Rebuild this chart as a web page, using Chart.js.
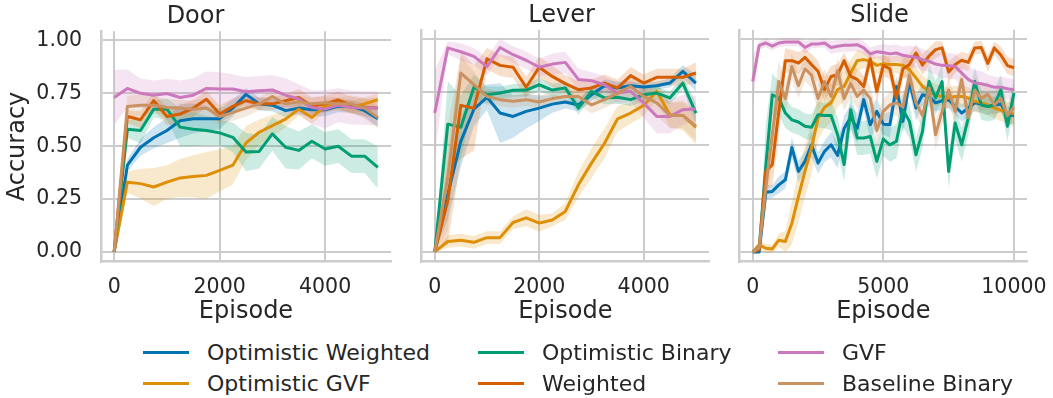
<!DOCTYPE html>
<html>
<head>
<meta charset="utf-8">
<script src="https://cdn.jsdelivr.net/npm/chart.js@4.4.1/dist/chart.umd.min.js"></script>
<style>
    body { margin: 0; background: #fff; width: 1053px; height: 398px; overflow: hidden; position: relative;
           font-family: "DejaVu Sans", sans-serif; color: #262626; }
    canvas { position: absolute; top: 0; }
    .leg-item { position: absolute; height: 30px; display: flex; align-items: center; font-size: 22px; white-space: nowrap; }
    .leg-line { width: 46px; height: 3px; margin-right: 18px; }
</style>
</head>
<body>
<canvas id="chart-door"  style="left:0px"   width="418" height="330"></canvas>
<canvas id="chart-lever" style="left:414px" width="322" height="330"></canvas>
<canvas id="chart-slide" style="left:732px" width="341" height="330"></canvas>
<div id="legend"></div>
<script>
// series (hue order)
const seriesNames  = ['Optimistic Weighted', 'Optimistic GVF', 'Optimistic Binary', 'Weighted', 'GVF', 'Baseline Binary'];
const seriesColors = ['#0173b2', '#de8f05', '#029e73', '#d55e00', '#cc78bc', '#ca9161'];

const yTicks      = [0, 0.25, 0.5, 0.75, 1.0];
const doorTicks   = [0, 2000, 4000];
const leverTicks  = [0, 2000, 4000];
const slideTicks  = [0, 5000, 10000];

// ---- Door ----
const doorEp = [0, 250, 500, 750, 1000, 1250, 1500, 1750, 2000, 2250, 2500, 2750, 3000, 3250, 3500, 3750, 4000, 4250, 4500, 4750, 5000];
const door_ow   = [0, 0.41, 0.495, 0.54, 0.574, 0.62, 0.63, 0.63, 0.63, 0.68, 0.745, 0.70, 0.694, 0.668, 0.68, 0.672, 0.672, 0.69, 0.688, 0.668, 0.63];
const door_ogvf = [0, 0.33, 0.323, 0.307, 0.33, 0.35, 0.357, 0.362, 0.386, 0.41, 0.515, 0.566, 0.597, 0.628, 0.675, 0.636, 0.69, 0.70, 0.683, 0.70, 0.72];
const door_ob   = [0, 0.58, 0.574, 0.675, 0.675, 0.59, 0.58, 0.574, 0.563, 0.542, 0.472, 0.475, 0.558, 0.495, 0.48, 0.523, 0.487, 0.50, 0.453, 0.453, 0.40];
const door_w    = [0, 0.64, 0.625, 0.715, 0.64, 0.652, 0.68, 0.722, 0.652, 0.688, 0.715, 0.70, 0.70, 0.715, 0.73, 0.69, 0.70, 0.718, 0.694, 0.683, 0.68];
const door_gvf  = [0.73, 0.773, 0.75, 0.741, 0.749, 0.73, 0.741, 0.773, 0.77, 0.77, 0.757, 0.762, 0.766, 0.741, 0.723, 0.683, 0.675, 0.694, 0.683, 0.68, 0.68];
const door_bb   = [0, 0.688, 0.694, 0.694, 0.683, 0.68, 0.675, 0.68, 0.64, 0.66, 0.68, 0.70, 0.735, 0.70, 0.71, 0.70, 0.705, 0.70, 0.70, 0.68, 0.635];

const door_ow_sd   = [0, 0.03, 0.04, 0.05, 0.06, 0.08, 0.07, 0.06, 0.05, 0.04, 0.03, 0.03, 0.03, 0.03, 0.03, 0.03, 0.03, 0.03, 0.03, 0.03, 0.04];
const door_ogvf_sd = [0, 0.05, 0.07, 0.09, 0.08, 0.09, 0.10, 0.11, 0.10, 0.09, 0.08, 0.06, 0.05, 0.04, 0.03, 0.03, 0.03, 0.03, 0.03, 0.03, 0.03];
const door_ob_sd   = [0, 0.04, 0.06, 0.04, 0.05, 0.09, 0.08, 0.07, 0.06, 0.07, 0.09, 0.08, 0.08, 0.10, 0.09, 0.08, 0.08, 0.08, 0.08, 0.08, 0.10];
const door_w_sd    = [0, 0.03, 0.04, 0.04, 0.04, 0.04, 0.04, 0.04, 0.04, 0.04, 0.03, 0.03, 0.03, 0.03, 0.04, 0.04, 0.04, 0.04, 0.04, 0.04, 0.05];
const door_gvf_sd  = [0.13, 0.09, 0.07, 0.07, 0.07, 0.08, 0.08, 0.08, 0.08, 0.07, 0.07, 0.07, 0.07, 0.08, 0.07, 0.08, 0.09, 0.08, 0.08, 0.08, 0.08];
const door_bb_sd   = [0, 0.05, 0.05, 0.04, 0.04, 0.04, 0.04, 0.05, 0.04, 0.04, 0.04, 0.03, 0.03, 0.03, 0.03, 0.03, 0.03, 0.03, 0.04, 0.05, 0.05];

// ---- Lever ----
const leverEp = [0, 250, 500, 750, 1000, 1250, 1500, 1750, 2000, 2250, 2500, 2750, 3000, 3250, 3500, 3750, 4000, 4250, 4500, 4750, 5000];
const lever_ow   = [0, 0.27, 0.52, 0.67, 0.726, 0.652, 0.636, 0.66, 0.675, 0.694, 0.704, 0.69, 0.738, 0.78, 0.77, 0.78, 0.774, 0.78, 0.793, 0.848, 0.793];
const lever_ogvf = [0, 0.049, 0.055, 0.045, 0.067, 0.067, 0.138, 0.16, 0.135, 0.15, 0.19, 0.315, 0.417, 0.51, 0.625, 0.652, 0.688, 0.754, 0.644, 0.641, 0.585];
const lever_ob   = [0, 0.60, 0.585, 0.773, 0.738, 0.746, 0.759, 0.76, 0.785, 0.76, 0.77, 0.675, 0.754, 0.723, 0.726, 0.715, 0.738, 0.746, 0.723, 0.793, 0.652];
const lever_w    = [0, 0.24, 0.688, 0.675, 0.907, 0.876, 0.867, 0.773, 0.867, 0.824, 0.79, 0.762, 0.77, 0.793, 0.77, 0.828, 0.793, 0.82, 0.82, 0.82, 0.84];
const lever_gvf  = [0.652, 0.958, 0.94, 0.918, 0.87, 0.96, 0.926, 0.90, 0.867, 0.882, 0.89, 0.81, 0.804, 0.785, 0.746, 0.754, 0.70, 0.636, 0.636, 0.668, 0.672];
const lever_bb   = [0, 0.35, 0.84, 0.785, 0.73, 0.715, 0.707, 0.715, 0.704, 0.72, 0.73, 0.73, 0.69, 0.715, 0.746, 0.777, 0.73, 0.70, 0.641, 0.641, 0.59];

const lever_ow_sd   = [0, 0.12, 0.12, 0.08, 0.06, 0.14, 0.10, 0.08, 0.06, 0.04, 0.03, 0.03, 0.03, 0.03, 0.03, 0.02, 0.02, 0.02, 0.02, 0.03, 0.04];
const lever_ogvf_sd = [0, 0.03, 0.03, 0.03, 0.03, 0.03, 0.03, 0.04, 0.04, 0.03, 0.04, 0.06, 0.07, 0.07, 0.06, 0.05, 0.05, 0.04, 0.06, 0.07, 0.08];
const lever_ob_sd   = [0, 0.20, 0.15, 0.06, 0.04, 0.03, 0.03, 0.03, 0.03, 0.03, 0.03, 0.03, 0.03, 0.03, 0.03, 0.03, 0.03, 0.03, 0.03, 0.03, 0.05];
const lever_w_sd    = [0, 0.20, 0.25, 0.20, 0.05, 0.05, 0.05, 0.05, 0.05, 0.05, 0.04, 0.04, 0.04, 0.04, 0.04, 0.04, 0.04, 0.04, 0.04, 0.04, 0.05];
const lever_gvf_sd  = [0.20, 0.03, 0.04, 0.04, 0.04, 0.04, 0.04, 0.04, 0.04, 0.05, 0.05, 0.05, 0.04, 0.04, 0.05, 0.05, 0.07, 0.08, 0.08, 0.07, 0.06];
const lever_bb_sd   = [0, 0.25, 0.08, 0.06, 0.04, 0.03, 0.03, 0.03, 0.03, 0.03, 0.03, 0.04, 0.04, 0.04, 0.04, 0.05, 0.05, 0.06, 0.06, 0.06, 0.07];

// ---- Slide ----
const slideEp = [0, 250, 500, 750, 1000, 1250, 1500, 1750, 2000, 2250, 2500, 2750, 3000, 3250, 3500, 3750, 4000, 4250, 4500, 4750,
                 5000, 5250, 5500, 5750, 6000, 6250, 6500, 6750, 7000, 7250, 7500, 7750, 8000, 8250, 8500, 8750, 9000, 9250, 9500, 9750, 10000];
const slide_ow   = [0, 0, 0.28, 0.284, 0.315, 0.339, 0.49, 0.378, 0.425, 0.503, 0.417, 0.472, 0.503, 0.453, 0.58, 0.632, 0.58, 0.715, 0.597, 0.66,
                    0.60, 0.597, 0.777, 0.613, 0.80, 0.676, 0.738, 0.73, 0.70, 0.71, 0.715, 0.683, 0.652, 0.676, 0.70, 0.695, 0.683, 0.69, 0.695, 0.641, 0.641];
const slide_ogvf = [0, 0.033, 0.017, 0.014, 0.055, 0.049, 0.135, 0.26, 0.378, 0.487, 0.628, 0.679, 0.70, 0.762, 0.777, 0.84, 0.898, 0.903, 0.895, 0.876,
                    0.884, 0.88, 0.88, 0.876, 0.856, 0.817, 0.777, 0.754, 0.738, 0.73, 0.723, 0.73, 0.73, 0.723, 0.707, 0.70, 0.69, 0.676, 0.665, 0.652, 0.647];
const slide_ob   = [0, 0.02, 0.40, 0.738, 0.723, 0.652, 0.62, 0.61, 0.59, 0.585, 0.644, 0.641, 0.641, 0.55, 0.41, 0.668, 0.535, 0.535, 0.542, 0.425,
                    0.53, 0.503, 0.519, 0.668, 0.613, 0.456, 0.566, 0.80, 0.723, 0.80, 0.378, 0.605, 0.503, 0.628, 0.80, 0.69, 0.683, 0.69, 0.762, 0.59, 0.746];
const slide_w    = [0, 0.01, 0.378, 0.41, 0.66, 0.898, 0.898, 0.887, 0.914, 0.88, 0.848, 0.762, 0.824, 0.832, 0.898, 0.824, 0.81, 0.777, 0.907, 0.754,
                    0.876, 0.86, 0.723, 0.86, 0.88, 0.934, 0.878, 0.92, 0.95, 0.958, 0.845, 0.88, 0.90, 0.89, 0.958, 0.96, 0.885, 0.958, 0.925, 0.875, 0.865];
const slide_gvf  = [0.80, 0.97, 0.981, 0.966, 0.981, 0.986, 0.986, 0.986, 0.96, 0.976, 0.976, 0.981, 0.96, 0.966, 0.97, 0.97, 0.973, 0.958, 0.93, 0.94,
                    0.936, 0.93, 0.934, 0.923, 0.918, 0.914, 0.903, 0.895, 0.882, 0.876, 0.874, 0.871, 0.84, 0.81, 0.793, 0.79, 0.782, 0.773, 0.773, 0.766, 0.762];
const slide_bb   = [0, 0.02, 0.30, 0.55, 0.80, 0.72, 0.87, 0.78, 0.86, 0.83, 0.72, 0.80, 0.73, 0.85, 0.72, 0.79, 0.73, 0.76, 0.72, 0.57,
                    0.66, 0.69, 0.70, 0.68, 0.83, 0.70, 0.64, 0.77, 0.55, 0.66, 0.76, 0.66, 0.81, 0.63, 0.76, 0.72, 0.74, 0.69, 0.72, 0.64, 0.68];

const slide_ow_sd   = [0, 0, 0.03, 0.03, 0.04, 0.04, 0.05, 0.05, 0.05, 0.06, 0.05, 0.05, 0.06, 0.06, 0.06, 0.06, 0.07, 0.05, 0.07, 0.06,
                       0.05, 0.06, 0.05, 0.06, 0.05, 0.06, 0.05, 0.05, 0.04, 0.04, 0.04, 0.04, 0.04, 0.04, 0.04, 0.04, 0.04, 0.04, 0.04, 0.04, 0.04];
const slide_ogvf_sd = [0, 0.02, 0.02, 0.02, 0.03, 0.05, 0.10, 0.12, 0.12, 0.12, 0.10, 0.10, 0.09, 0.08, 0.07, 0.06, 0.05, 0.04, 0.04, 0.04,
                       0.04, 0.04, 0.04, 0.05, 0.05, 0.05, 0.05, 0.05, 0.05, 0.05, 0.05, 0.05, 0.05, 0.05, 0.05, 0.05, 0.05, 0.05, 0.05, 0.05, 0.06];
const slide_ob_sd   = [0, 0.02, 0.20, 0.10, 0.08, 0.07, 0.06, 0.06, 0.06, 0.06, 0.06, 0.06, 0.07, 0.08, 0.08, 0.08, 0.08, 0.08, 0.08, 0.08,
                       0.08, 0.08, 0.08, 0.08, 0.08, 0.08, 0.08, 0.08, 0.08, 0.08, 0.08, 0.08, 0.08, 0.08, 0.07, 0.07, 0.07, 0.07, 0.07, 0.07, 0.07];
const slide_w_sd    = [0, 0.01, 0.08, 0.10, 0.12, 0.06, 0.05, 0.05, 0.04, 0.05, 0.05, 0.06, 0.05, 0.05, 0.04, 0.05, 0.05, 0.05, 0.04, 0.05,
                       0.05, 0.05, 0.06, 0.05, 0.05, 0.04, 0.05, 0.04, 0.04, 0.03, 0.05, 0.04, 0.04, 0.04, 0.03, 0.03, 0.04, 0.03, 0.04, 0.04, 0.04];
const slide_gvf_sd  = [0.12, 0.02, 0.02, 0.02, 0.02, 0.02, 0.02, 0.02, 0.03, 0.02, 0.02, 0.02, 0.03, 0.03, 0.03, 0.03, 0.03, 0.03, 0.03, 0.03,
                       0.04, 0.04, 0.04, 0.04, 0.05, 0.05, 0.05, 0.05, 0.05, 0.06, 0.06, 0.06, 0.06, 0.06, 0.06, 0.06, 0.05, 0.05, 0.05, 0.05, 0.05];
const slide_bb_sd   = [0, 0.02, 0.10, 0.12, 0.10, 0.07, 0.06, 0.06, 0.06, 0.06, 0.06, 0.06, 0.06, 0.06, 0.06, 0.06, 0.06, 0.06, 0.06, 0.07,
                       0.06, 0.06, 0.06, 0.06, 0.06, 0.06, 0.06, 0.06, 0.07, 0.06, 0.06, 0.06, 0.06, 0.06, 0.06, 0.06, 0.06, 0.06, 0.06, 0.06, 0.06];

Chart.defaults.font.family = '"DejaVu Sans", sans-serif';
Chart.defaults.color = '#262626';

const TEXT = '#262626';
const GRID = '#cccccc';

function hexRgba(hex, a) {
    const n = parseInt(hex.slice(1), 16);
    return `rgba(${n >> 16}, ${(n >> 8) & 255}, ${n & 255}, ${a})`;
}

function buildDatasets(ep, means, sds) {
    const pts = (arr) => ep.map((x, i) => ({ x, y: arr[i] }));
    const lines = [], bands = [];
    // index 0 is drawn last in Chart.js -> reverse so the last hue sits on top
    for (let s = means.length - 1; s >= 0; s--) {
        lines.push({
            data: pts(means[s]),
            borderColor: seriesColors[s],
            borderWidth: 3,
            pointRadius: 0,
            tension: 0,
            borderJoinStyle: 'round',
            fill: false,
        });
    }
    for (let s = means.length - 1; s >= 0; s--) {
        const hi = means[s].map((m, i) => m + sds[s][i]);
        const lo = means[s].map((m, i) => m - sds[s][i]);
        bands.push({ data: pts(hi), borderWidth: 0, pointRadius: 0, tension: 0, fill: false, borderColor: 'rgba(0,0,0,0)' });
        bands.push({ data: pts(lo), borderWidth: 0, pointRadius: 0, tension: 0, fill: '-1', borderColor: 'rgba(0,0,0,0)',
                     backgroundColor: hexRgba(seriesColors[s], 0.2) });
    }
    return lines.concat(bands);
}

function makePanel(id, title, ep, means, sds, xMin, xMax, xTicks, showY, yWidth, padRight) {
    new Chart(document.getElementById(id), {
        type: 'line',
        data: { datasets: buildDatasets(ep, means, sds) },
        options: {
            responsive: false,
            animation: false,
            layout: { padding: { left: 0, right: padRight, top: 0, bottom: 0 } },
            plugins: {
                legend: { display: false },
                tooltip: { enabled: false },
                title: { display: true, text: title, color: TEXT, font: { size: 24, weight: 'normal' }, padding: { top: 1, bottom: 0 } },
            },
            scales: {
                x: {
                    type: 'linear', min: xMin, max: xMax,
                    afterBuildTicks: s => { s.ticks = xTicks.map(v => ({ value: v })); },
                    afterFit: s => { s.height = 68.3; },
                    ticks: { color: TEXT, font: { size: 20.5 }, padding: 14, maxRotation: 0, autoSkip: false, callback: v => String(v) },
                    grid: { color: GRID, lineWidth: 2, drawTicks: false },
                    border: { display: true, color: GRID, width: 2.5 },
                    title: { display: true, text: 'Episode', color: TEXT, font: { size: 24 }, padding: { top: 0, bottom: 4 } },
                },
                y: {
                    min: -0.046, max: 1.043,
                    afterBuildTicks: s => { s.ticks = yTicks.map(v => ({ value: v })); },
                    afterFit: s => { s.width = yWidth; },
                    ticks: { display: showY, color: TEXT, font: { size: 20.5 }, padding: 19, callback: v => v.toFixed(2) },
                    grid: { color: GRID, lineWidth: 2, drawTicks: false },
                    border: { display: true, color: GRID, width: 2.5 },
                    title: { display: showY, text: 'Accuracy', color: TEXT, font: { size: 24 }, padding: { top: 3, bottom: 0 } },
                },
            },
        },
    });
}

makePanel('chart-door', 'Door', doorEp,
    [door_ow, door_ogvf, door_ob, door_w, door_gvf, door_bb],
    [door_ow_sd, door_ogvf_sd, door_ob_sd, door_w_sd, door_gvf_sd, door_bb_sd],
    -250, 5250, doorTicks, true, 101, 27);
makePanel('chart-lever', 'Lever', leverEp,
    [lever_ow, lever_ogvf, lever_ob, lever_w, lever_gvf, lever_bb],
    [lever_ow_sd, lever_ogvf_sd, lever_ob_sd, lever_w_sd, lever_gvf_sd, lever_bb_sd],
    -250, 5250, leverTicks, false, 4.5, 27);
makePanel('chart-slide', 'Slide', slideEp,
    [slide_ow, slide_ogvf, slide_ob, slide_w, slide_gvf, slide_bb],
    [slide_ow_sd, slide_ogvf_sd, slide_ob_sd, slide_w_sd, slide_gvf_sd, slide_bb_sd],
    -500, 10500, slideTicks, false, 4, 46);

// Legend: 3 columns, filled column by column
const legCols = [143, 478, 778];
const legRows = [337, 368];
const legEl = document.getElementById('legend');
seriesNames.forEach((name, i) => {
    const item = document.createElement('div');
    item.className = 'leg-item';
    item.style.left = legCols[Math.floor(i / 2)] + 'px';
    item.style.top  = legRows[i % 2] + 'px';
    item.innerHTML = `<span class="leg-line" style="background:${seriesColors[i]}"></span><span>${name}</span>`;
    legEl.appendChild(item);
});
</script>
</body>
</html>
